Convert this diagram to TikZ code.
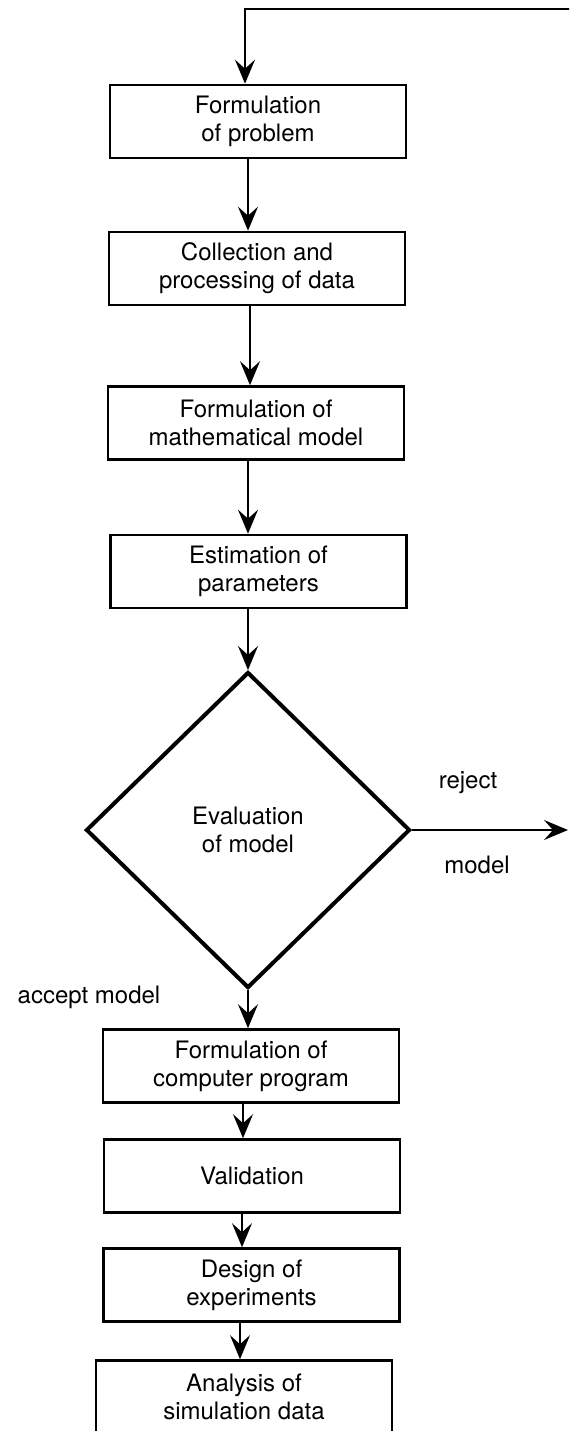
\documentclass[tikz,border=0pt]{standalone}
\usepackage{fontspec}
\setmainfont{TeX Gyre Heros}
\usetikzlibrary{arrows.meta,shapes.geometric}

\tikzset{
    stagebox/.style={draw, line width=1.3pt, minimum width=148pt, minimum height=36.5pt,
        inner sep=0pt, align=center, font=\fontsize{12}{14}\selectfont},
    decision/.style={draw, diamond, line width=2pt, minimum width=162pt, minimum height=158pt,
        inner sep=0pt, align=center, font=\fontsize{12}{14}\selectfont},
    caption/.style={font=\fontsize{12}{14}\selectfont, inner sep=0pt},
    flow/.style={line width=1pt, -{Stealth[length=12pt, width=10pt, inset=4.5pt]}}
}

\begin{document}
\begin{tikzpicture}[x=0.5pt, y=-0.5pt]

            % the frame
            \path[clip] (0, 0) rectangle (569, 1431);

            % the stages
            \node[stagebox] (b1) at (258, 121.5) {Formulation\\of problem};
            \node[stagebox] (b2) at (257, 268.5) {Collection and\\processing of data};
            \node[stagebox] (b3) at (256, 423) {Formulation of\\mathematical model};
            \node[stagebox] (b4) at (258.5, 571.5) {Estimation of\\parameters};
            \node[decision] (eval) at (248, 830) {Evaluation\\of model};
            \node[stagebox] (b5) at (251, 1066) {Formulation of\\computer program};
            \node[stagebox] (b6) at (252, 1176) {Validation};
            \node[stagebox] (b7) at (251.5, 1285) {Design of\\experiments};
            \node[stagebox] (b8) at (244, 1397) {Analysis of\\simulation data};

            % the arrows down
            \foreach \a/\b/\s in {b1/b2/-5, b2/b3/-3.5, b3/b4/-4, b4/eval/-5.25,
                                  eval/b5/0, b5/b6/-4, b6/b7/-5, b7/b8/-5.75} {
                \draw[flow] ([xshift=\s pt]\a.south) -- ([xshift=\s pt]\a.south |- \b.north);
            };

            % loop back and reject
            \coordinate (back) at (575, 9);
            \coordinate (out) at (568, 830);
            \draw[flow] (back) -| ([xshift=-6.5pt]b1.north);
            \draw[flow] (eval.east) -- (out);

            % labels
            \node[caption] (rej) at (468, 783) {reject};
            \node[caption] (rejm) at (477, 865) {model};
            \node[caption] (acc) at (89, 997) {accept model};
        \end{tikzpicture}
\end{document}
